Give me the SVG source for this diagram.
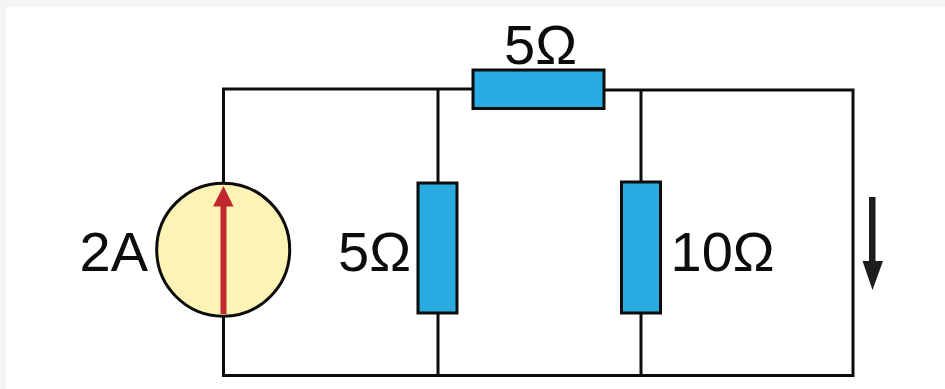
<svg xmlns="http://www.w3.org/2000/svg" width="945" height="389" viewBox="0 0 945 389">
<style>
.w{fill:none;stroke:#0c0c0c;stroke-width:3;stroke-linejoin:miter}
.r{fill:#29abe2;stroke:#0c0c0c;stroke-width:3}
.t{font-family:"Liberation Sans",Arial,sans-serif;font-size:56px;fill:#0c0c0c}
</style>
<rect width="945" height="389" fill="#f5f5f5"/>
<rect x="6" y="7" width="939" height="382" fill="#fff"/>
<g id="connectors">
<path class="w" d="M223.500 183V89H473M605 90H853V375.500H223.500V316"/>
<path class="w" d="M438 89V183M438 313V375M641 90V182M641 313V375"/>
</g>
<g id="source">
<circle cx="223.200" cy="249.700" r="66.500" fill="#fdf3b4" stroke="#0c0c0c" stroke-width="3"/>
<path fill="#c1272d" d="M220.500 314V206.500H213L223.500 186L233.500 206.500H226.500V314Z"/>
<text class="t" x="79.500" y="271">2A</text>
</g>
<g id="r1">
<rect class="r" x="473" y="70" width="131" height="38.500"/>
<text class="t" x="504" y="64">5Ω</text>
</g>
<g id="r2">
<rect class="r" x="418" y="183" width="39" height="130"/>
<text class="t" x="338" y="271">5Ω</text>
</g>
<g id="r3">
<rect class="r" x="621.500" y="182" width="39" height="131"/>
<text class="t" x="670.500" y="271">10Ω</text>
</g>
<g id="current-arrow">
<path fill="#1d1d1b" d="M869 197H875.500V261H883L872.500 290L862.500 261H869Z"/>
</g>
</svg>
